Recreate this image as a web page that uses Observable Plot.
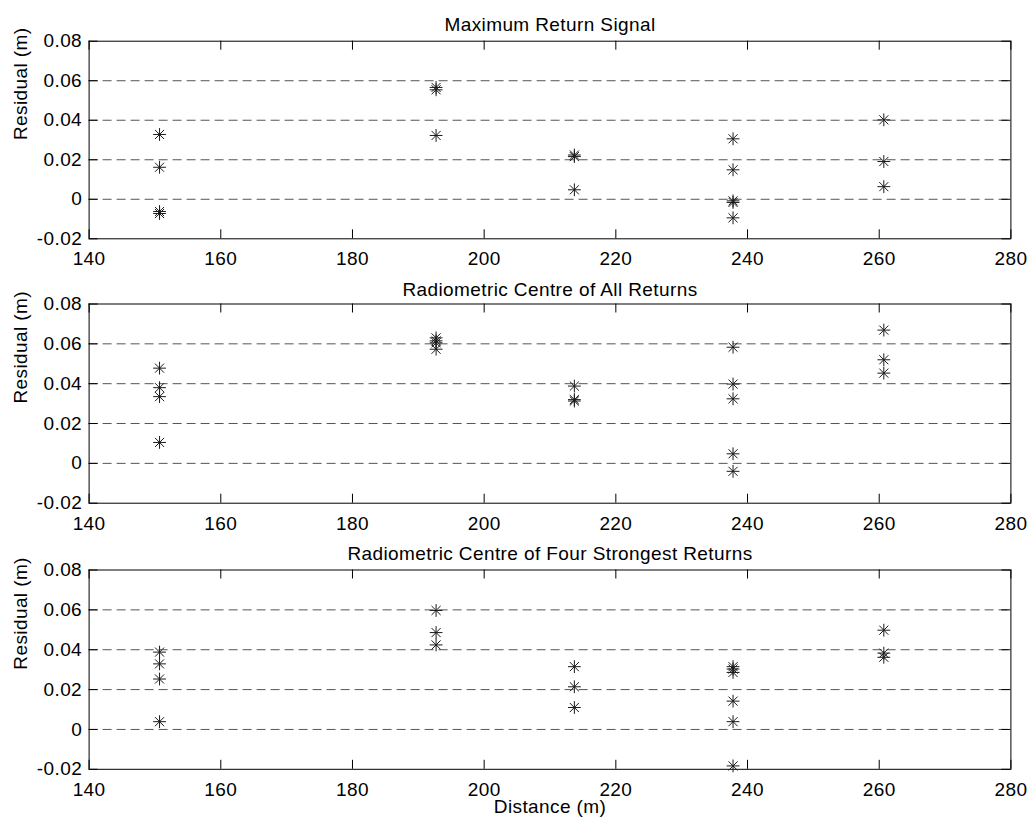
<!DOCTYPE html>
<html>
<head>
<meta charset="utf-8">
<script src="https://cdn.jsdelivr.net/npm/d3@7"></script>
<script src="https://cdn.jsdelivr.net/npm/@observablehq/plot@0.6"></script>
<style>
  html, body { margin: 0; padding: 0; background: white; }
  #chart { width: 1031px; height: 825px; }
  #chart svg { display: block; }
</style>
</head>
<body>
<div id="chart"></div>
<script>
// ---- data ----
const distances = [150.7, 192.7, 213.7, 237.8, 260.7];

const titles = [
  "Maximum Return Signal",
  "Radiometric Centre of All Returns",
  "Radiometric Centre of Four Strongest Returns"
];

// residuals (m) grouped by distance, one array per distance
const maxReturnResiduals = [
  [0.0328, 0.0162, -0.0062, -0.0072],
  [0.0566, 0.0554, 0.0323],
  [0.0224, 0.0216, 0.0048],
  [0.0306, 0.0149, -0.0008, -0.0016, -0.0094],
  [0.0402, 0.0191, 0.0064]
];
const allReturnsResiduals = [
  [0.0478, 0.0380, 0.0335, 0.0105],
  [0.0630, 0.0615, 0.0605, 0.0573],
  [0.0388, 0.0320, 0.0313],
  [0.0583, 0.0398, 0.0324, 0.0048, -0.0040],
  [0.0669, 0.0520, 0.0453]
];
const fourStrongestResiduals = [
  [0.0388, 0.0329, 0.0253, 0.0039],
  [0.0597, 0.0486, 0.0424],
  [0.0315, 0.0214, 0.0110],
  [0.0315, 0.0303, 0.0286, 0.0142, 0.0039, -0.0183],
  [0.0498, 0.0383, 0.0362]
];

const xTicks = [140, 160, 180, 200, 220, 240, 260, 280];
const yTicks = [-0.02, 0, 0.02, 0.04, 0.06, 0.08];
const yGrid = [0, 0.02, 0.04, 0.06];
const xLabel = "Distance (m)";
const yLabel = "Residual (m)";

// ---- layout ----
const W = 1031, ML = 88.6, MR = 20.6;
const FONT = "'Liberation Sans', Arial, Helvetica, sans-serif";
const panels = [
  {title: titles[0], residuals: maxReturnResiduals, height: 270, top: 40.7, bottom: 31.7, titleDy: -23.4, xlab: false},
  {title: titles[1], residuals: allReturnsResiduals, height: 265, top: 33.5, bottom: 32.3, titleDy: -22, xlab: false},
  {title: titles[2], residuals: fourStrongestResiduals, height: 290, top: 34.5, bottom: 56.2, titleDy: -23.5, xlab: true}
];

const fmt = d => (Math.abs(d) < 1e-9 ? "0" : d.toFixed(2));

function panel(p) {
  const plotW = W - ML - MR;
  const plotH = p.height - p.top - p.bottom;
  const data = distances.flatMap((d, i) => p.residuals[i].map(r => ({distance: d, residual: r})));
  const ink = "#1a1a1a";
  const marks = [
    Plot.ruleY(yGrid, {stroke: "#555", strokeDasharray: "9,5", strokeWidth: 1}),
    Plot.tickX(xTicks, {x: d => d, stroke: "black", insetTop: plotH - 9}),
    Plot.tickX(xTicks, {x: d => d, stroke: "black", insetBottom: plotH - 9}),
    Plot.tickY(yTicks, {y: d => d, stroke: "black", insetRight: plotW - 9}),
    Plot.tickY(yTicks, {y: d => d, stroke: "black", insetLeft: plotW - 9}),
    Plot.frame({stroke: "black", strokeWidth: 1}),
    Plot.axisX(xTicks, {tickSize: 0, tickPadding: 13, label: null}),
    Plot.axisY(yTicks, {tickSize: 0, tickPadding: 7, label: null, tickFormat: fmt}),
    Plot.dot(data, {x: "distance", y: "residual", symbol: "plus", r: 4.2, stroke: ink, strokeWidth: 1}),
    Plot.dot(data, {x: "distance", y: "residual", symbol: "times", r: 4.2, stroke: ink, strokeWidth: 1}),
    Plot.text([p.title], {frameAnchor: "top", dy: p.titleDy, fill: "black"}),
    Plot.text([yLabel], {frameAnchor: "left", rotate: -90, dx: -68.6, fill: "black"})
  ];
  if (p.xlab) marks.push(Plot.text([xLabel], {frameAnchor: "bottom", dy: 43.2, fill: "black"}));
  return Plot.plot({
    width: W,
    height: p.height,
    marginLeft: ML,
    marginRight: MR,
    marginTop: p.top,
    marginBottom: p.bottom,
    style: {fontFamily: FONT, fontSize: "19px", letterSpacing: "0.4px", color: "black", background: "white", overflow: "visible"},
    x: {domain: [140, 280], label: null},
    y: {domain: [-0.02, 0.08], label: null},
    marks
  });
}

const chart = document.getElementById("chart");
for (const p of panels) chart.appendChild(panel(p));
</script>
</body>
</html>
